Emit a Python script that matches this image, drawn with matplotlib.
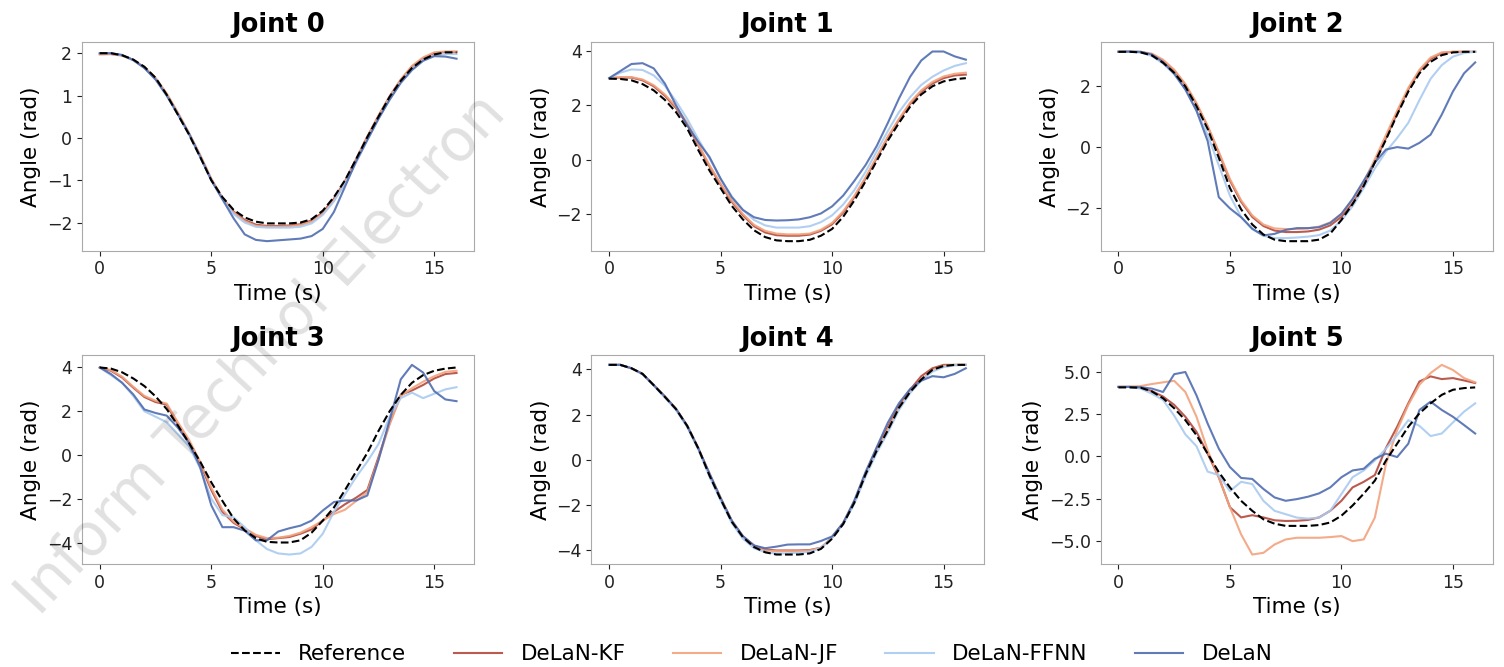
import numpy as np
import matplotlib
matplotlib.use("Agg")
import matplotlib.pyplot as plt

time_s = [0, 0.5, 1, 1.5, 2, 2.5, 3, 3.5, 4, 4.5, 5, 5.5, 6, 6.5, 7, 7.5, 8,
          8.5, 9, 9.5, 10, 10.5, 11, 11.5, 12, 12.5, 13, 13.5, 14, 14.5, 15, 15.5, 16]

joint_titles = ["Joint 0", "Joint 1", "Joint 2", "Joint 3", "Joint 4", "Joint 5"]
series_names = ["Reference", "DeLaN-KF", "DeLaN-JF", "DeLaN-FFNN", "DeLaN"]

# Joint 0
j0_ref = [2.0, 2.0, 1.95, 1.85, 1.68, 1.42, 1.02, 0.55, 0.08, -0.45, -1.0, -1.4, -1.7, -1.88, -1.98, -2.02, -2.02,
          -2.02, -2.0, -1.92, -1.72, -1.4, -1.0, -0.5, 0.02, 0.5, 0.97, 1.35, 1.65, 1.85, 1.97, 2.02, 2.02]
j0_kf = [1.98, 1.98, 1.95, 1.84, 1.66, 1.4, 1.03, 0.58, 0.1, -0.42, -0.98, -1.42, -1.74, -1.94, -2.05, -2.08, -2.08,
         -2.07, -2.04, -1.95, -1.76, -1.44, -1.02, -0.5, 0.03, 0.52, 0.98, 1.37, 1.68, 1.88, 2.0, 2.03, 2.03]
j0_jf = [1.97, 1.98, 1.94, 1.84, 1.67, 1.42, 1.05, 0.6, 0.12, -0.4, -0.96, -1.42, -1.76, -1.97, -2.08, -2.1, -2.1,
         -2.09, -2.06, -1.98, -1.8, -1.48, -1.05, -0.52, 0.02, 0.52, 0.98, 1.38, 1.7, 1.9, 2.02, 2.04, 2.04]
j0_ffnn = [2.0, 2.0, 1.95, 1.83, 1.65, 1.38, 1.0, 0.55, 0.08, -0.45, -1.0, -1.45, -1.8, -2.0, -2.1, -2.12, -2.12,
           -2.12, -2.1, -2.02, -1.82, -1.5, -1.08, -0.58, -0.05, 0.45, 0.92, 1.32, 1.63, 1.84, 1.95, 1.98, 1.98]
j0_delan = [2.0, 2.0, 1.96, 1.84, 1.65, 1.38, 1.0, 0.56, 0.1, -0.44, -1.0, -1.45, -1.9, -2.28, -2.41, -2.44, -2.42,
            -2.4, -2.38, -2.32, -2.15, -1.75, -1.15, -0.55, -0.05, 0.45, 0.9, 1.3, 1.6, 1.82, 1.93, 1.92, 1.87]

# Joint 1
j1_ref = [2.98, 2.97, 2.92, 2.78, 2.55, 2.2, 1.75, 1.15, 0.35, -0.4, -1.05, -1.7, -2.2, -2.6, -2.85, -2.97, -3.0,
          -3.0, -2.95, -2.8, -2.55, -2.1, -1.5, -0.8, -0.05, 0.7, 1.35, 1.95, 2.4, 2.7, 2.88, 2.96, 3.0]
j1_kf = [3.0, 3.02, 3.02, 2.92, 2.7, 2.35, 1.9, 1.3, 0.52, -0.25, -0.92, -1.55, -2.05, -2.45, -2.68, -2.78, -2.8,
         -2.8, -2.76, -2.62, -2.38, -1.95, -1.38, -0.7, 0.05, 0.8, 1.45, 2.05, 2.5, 2.8, 3.0, 3.1, 3.13]
j1_jf = [3.0, 3.03, 3.04, 2.95, 2.74, 2.4, 1.95, 1.35, 0.57, -0.2, -0.88, -1.5, -2.0, -2.4, -2.62, -2.72, -2.75,
         -2.75, -2.72, -2.58, -2.33, -1.9, -1.33, -0.65, 0.1, 0.85, 1.5, 2.1, 2.55, 2.86, 3.06, 3.16, 3.2]
j1_ffnn = [3.0, 3.2, 3.32, 3.3, 3.1, 2.72, 2.15, 1.5, 0.75, 0.05, -0.7, -1.35, -1.85, -2.22, -2.42, -2.5, -2.5,
           -2.5, -2.45, -2.3, -2.05, -1.65, -1.12, -0.45, 0.3, 1.05, 1.75, 2.3, 2.75, 3.05, 3.28, 3.45, 3.55]
j1_delan = [3.0, 3.26, 3.52, 3.55, 3.36, 2.8, 2.0, 1.27, 0.65, 0.1, -0.7, -1.38, -1.85, -2.12, -2.22, -2.24, -2.23,
            -2.2, -2.12, -1.98, -1.72, -1.32, -0.78, -0.2, 0.5, 1.35, 2.25, 3.05, 3.65, 3.98, 3.98, 3.8, 3.68]

# Joint 2
j2_ref = [3.14, 3.14, 3.12, 3.02, 2.78, 2.45, 2.0, 1.35, 0.6, -0.35, -1.35, -2.05, -2.55, -2.88, -3.05, -3.1, -3.1,
          -3.1, -3.05, -2.85, -2.4, -1.88, -1.28, -0.5, 0.25, 1.07, 1.83, 2.43, 2.81, 3.03, 3.12, 3.14, 3.14]
j2_kf = [3.14, 3.14, 3.13, 3.05, 2.85, 2.52, 2.05, 1.42, 0.68, -0.2, -1.1, -1.8, -2.3, -2.6, -2.75, -2.8, -2.8,
         -2.78, -2.72, -2.58, -2.3, -1.85, -1.25, -0.5, 0.3, 1.12, 1.9, 2.5, 2.9, 3.1, 3.14, 3.14, 3.14]
j2_jf = [3.14, 3.14, 3.14, 3.08, 2.88, 2.55, 2.08, 1.45, 0.7, -0.15, -1.05, -1.75, -2.25, -2.55, -2.68, -2.7, -2.7,
         -2.68, -2.62, -2.48, -2.2, -1.75, -1.15, -0.4, 0.4, 1.2, 1.95, 2.55, 2.95, 3.12, 3.14, 3.14, 3.14]
j2_ffnn = [3.14, 3.14, 3.12, 3.0, 2.75, 2.4, 1.9, 1.2, 0.4, -0.6, -1.6, -2.3, -2.7, -2.92, -3.0, -3.0, -2.98,
           -2.95, -2.9, -2.75, -2.42, -1.95, -1.35, -0.7, -0.15, 0.3, 0.8, 1.55, 2.25, 2.7, 2.98, 3.1, 3.14]
j2_delan = [3.14, 3.15, 3.14, 3.05, 2.8, 2.42, 1.9, 1.2, 0.2, -1.65, -2.02, -2.31, -2.69, -2.91, -2.86, -2.73, -2.67,
            -2.67, -2.64, -2.5, -2.2, -1.71, -1.11, -0.51, -0.08, 0.0, -0.05, 0.14, 0.41, 1.07, 1.83, 2.43, 2.79]

# Joint 3
j3_ref = [4.0, 3.95, 3.78, 3.5, 3.15, 2.68, 2.1, 1.35, 0.55, -0.3, -1.25, -2.1, -2.9, -3.45, -3.8, -3.97, -4.0,
          -4.0, -3.9, -3.55, -3.0, -2.4, -1.6, -0.75, 0.1, 1.1, 2.0, 2.75, 3.3, 3.65, 3.85, 3.95, 4.0]
j3_kf = [4.0, 3.85, 3.54, 3.08, 2.65, 2.42, 2.3, 1.4, 0.6, -0.4, -1.6, -2.6, -3.1, -3.4, -3.7, -3.85, -3.8,
         -3.75, -3.6, -3.4, -3.0, -2.6, -2.25, -1.95, -1.6, -0.1, 1.45, 2.75, 2.95, 3.2, 3.5, 3.7, 3.75]
j3_jf = [4.0, 3.88, 3.58, 3.12, 2.7, 2.48, 2.35, 1.5, 0.7, -0.3, -1.5, -2.5, -3.05, -3.35, -3.65, -3.8, -3.78,
         -3.7, -3.55, -3.3, -3.0, -2.7, -2.5, -2.1, -1.7, -0.2, 1.4, 2.7, 3.05, 3.35, 3.6, 3.8, 3.85]
j3_ffnn = [4.0, 3.65, 3.3, 2.7, 2.0, 1.75, 1.5, 0.95, 0.4, -0.6, -2.0, -2.75, -2.85, -3.3, -3.9, -4.3, -4.5,
           -4.55, -4.5, -4.2, -3.6, -2.6, -1.8, -1.0, -0.3, 0.5, 1.75, 2.6, 2.85, 2.6, 2.8, 3.0, 3.1]
j3_delan = [4.0, 3.7, 3.3, 2.77, 2.08, 1.92, 1.8, 1.25, 0.55, -0.55, -2.3, -3.3, -3.3, -3.46, -3.9, -3.9, -3.5,
            -3.35, -3.23, -3.0, -2.54, -2.15, -2.08, -2.08, -1.85, -0.23, 1.6, 3.46, 4.12, 3.77, 2.92, 2.54, 2.46]

# Joint 4
j4_ref = [4.2, 4.2, 4.05, 3.8, 3.3, 2.78, 2.24, 1.5, 0.5, -0.7, -1.75, -2.75, -3.43, -3.87, -4.1, -4.2, -4.2,
          -4.2, -4.15, -3.95, -3.5, -2.85, -1.9, -0.65, 0.4, 1.3, 2.3, 3.0, 3.55, 3.98, 4.15, 4.2, 4.2]
j4_kf = [4.2, 4.2, 4.05, 3.8, 3.3, 2.8, 2.25, 1.5, 0.5, -0.65, -1.7, -2.7, -3.4, -3.8, -3.98, -4.02, -4.02,
         -4.02, -4.0, -3.9, -3.45, -2.8, -1.85, -0.6, 0.5, 1.45, 2.4, 3.1, 3.7, 4.05, 4.2, 4.2, 4.2]
j4_jf = [4.2, 4.2, 4.05, 3.8, 3.32, 2.8, 2.25, 1.52, 0.52, -0.62, -1.68, -2.7, -3.42, -3.85, -4.02, -4.05, -4.05,
         -4.05, -4.02, -3.9, -3.45, -2.8, -1.88, -0.65, 0.42, 1.35, 2.3, 3.0, 3.55, 3.95, 4.15, 4.2, 4.2]
j4_ffnn = [4.2, 4.2, 4.05, 3.78, 3.28, 2.75, 2.2, 1.45, 0.45, -0.75, -1.8, -2.8, -3.5, -3.92, -4.1, -4.15, -4.15,
           -4.12, -4.08, -3.92, -3.45, -2.85, -1.95, -0.75, 0.3, 1.2, 2.2, 2.95, 3.5, 3.9, 4.1, 4.18, 4.2]
j4_delan = [4.2, 4.2, 4.05, 3.8, 3.3, 2.8, 2.25, 1.5, 0.5, -0.6, -1.7, -2.7, -3.38, -3.8, -3.92, -3.85, -3.76,
            -3.75, -3.75, -3.6, -3.4, -2.8, -1.8, -0.55, 0.55, 1.64, 2.5, 3.13, 3.5, 3.7, 3.65, 3.8, 4.05]

# Joint 5
j5_ref = [4.07, 4.07, 4.05, 3.83, 3.43, 2.84, 2.14, 1.25, 0.16, -0.93, -1.83, -2.62, -3.21, -3.71, -3.97, -4.1, -4.1,
          -4.1, -4.05, -3.9, -3.5, -2.9, -2.2, -1.43, -0.24, 0.75, 1.75, 2.54, 3.13, 3.63, 3.93, 4.03, 4.07]
j5_kf = [4.1, 4.1, 4.05, 3.85, 3.53, 3.04, 2.34, 1.45, 0.16, -1.23, -3.0, -3.6, -3.47, -3.6, -3.77, -3.81, -3.8,
         -3.75, -3.6, -3.21, -2.62, -1.83, -1.5, -1.1, 0.5, 1.75, 3.13, 4.42, 4.72, 4.56, 4.62, 4.48, 4.33]
j5_jf = [4.1, 4.12, 4.15, 4.27, 4.37, 4.46, 3.8, 2.34, 0.36, -1.23, -3.0, -4.6, -5.79, -5.69, -5.2, -4.9, -4.8,
         -4.8, -4.8, -4.76, -4.7, -5.0, -4.9, -3.61, -0.44, 1.55, 3.04, 4.23, 4.92, 5.4, 5.1, 4.62, 4.37]
j5_ffnn = [4.1, 4.1, 4.0, 3.7, 3.33, 2.4, 1.3, 0.6, -0.9, -1.1, -2.05, -1.5, -1.63, -2.62, -3.21, -3.41, -3.61,
           -3.67, -3.61, -3.21, -2.22, -1.23, -0.83, -0.24, 0.46, 1.25, 2.14, 1.8, 1.2, 1.35, 2.0, 2.64, 3.13]
j5_delan = [4.1, 4.1, 4.08, 4.0, 3.8, 4.85, 4.98, 3.6, 1.94, 0.46, -0.63, -1.27, -1.33, -1.92, -2.42, -2.62, -2.52,
            -2.38, -2.18, -1.83, -1.23, -0.83, -0.73, -0.14, 0.16, -0.04, 0.75, 2.74, 3.23, 2.74, 2.34, 1.85, 1.35]

joints = [
    [j0_ref, j0_kf, j0_jf, j0_ffnn, j0_delan],
    [j1_ref, j1_kf, j1_jf, j1_ffnn, j1_delan],
    [j2_ref, j2_kf, j2_jf, j2_ffnn, j2_delan],
    [j3_ref, j3_kf, j3_jf, j3_ffnn, j3_delan],
    [j4_ref, j4_kf, j4_jf, j4_ffnn, j4_delan],
    [j5_ref, j5_kf, j5_jf, j5_ffnn, j5_delan],
]

colors = ["black", "#b4493d", "#f2a27c", "#a9caf0", "#4f6db0"]
styles = ["--", "-", "-", "-", "-"]

plt.rcParams["font.family"] = ["DejaVu Sans"]

fig, axes = plt.subplots(2, 3, figsize=(15.04, 6.67), dpi=100)
fig.subplots_adjust(left=0.0545, right=0.9927, top=0.937, bottom=0.1544, wspace=0.298, hspace=0.502)

handles = []
for idx, ax in enumerate(axes.flat):
    data = joints[idx]
    order = [1, 2, 3, 4, 0]
    lines = {}
    for k in order:
        ln, = ax.plot(time_s, data[k], styles[k], color=colors[k], lw=1.5,
                      alpha=1.0 if k == 0 else 0.9, label=series_names[k], zorder=3 if k == 0 else 2)
        lines[k] = ln
    if idx == 0:
        handles = [lines[k] for k in range(5)]
    ax.set_title(joint_titles[idx], fontsize=18.5, fontweight="bold", pad=7)
    ax.set_xlabel("Time (s)", fontsize=15.5)
    ax.set_ylabel("Angle (rad)", fontsize=15.5)
    ax.set_xticks([0, 5, 10, 15])
    ax.tick_params(labelsize=12.5, colors="#222222")
    for sp in ax.spines.values():
        sp.set_color("#aaaaaa")

axes.flat[5].set_yticks([-5.0, -2.5, 0.0, 2.5, 5.0])
axes.flat[5].set_yticklabels(["\u22125.0", "\u22122.5", "0.0", "2.5", "5.0"])

fig.legend(handles, series_names, loc="center", bbox_to_anchor=(0.5, 0.019), ncol=5,
           frameon=False, fontsize=15.5, handlelength=2.25, handletextpad=0.85, columnspacing=2.2)

fig.text(0.026, 0.075, "Inform Technol Electron", fontsize=42, color="black", alpha=0.12,
         rotation=47, rotation_mode="anchor", ha="left", va="baseline", zorder=10)

fig.savefig("out.png", dpi=100)
